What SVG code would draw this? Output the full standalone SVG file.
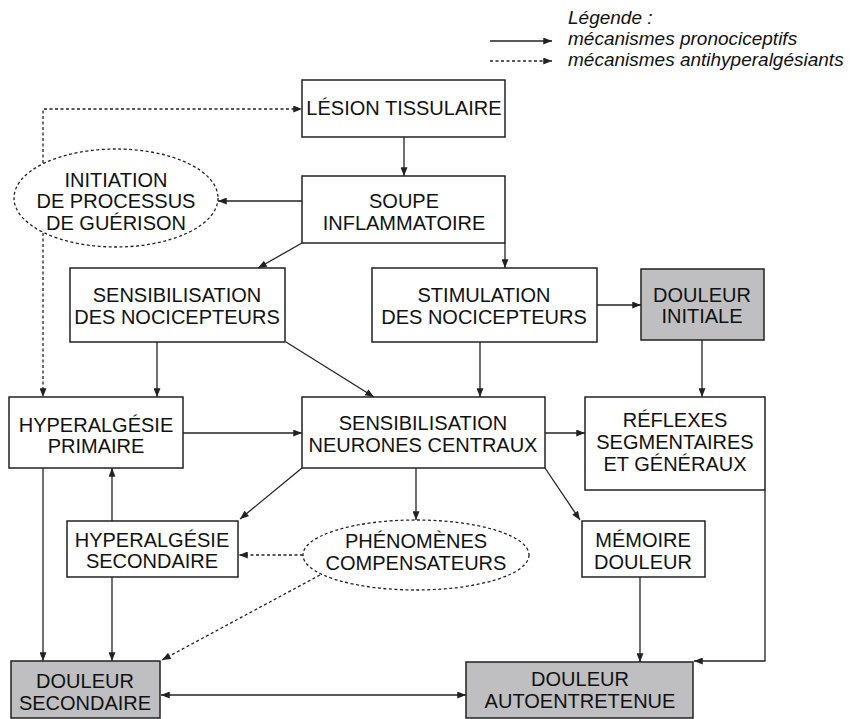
<svg xmlns="http://www.w3.org/2000/svg" width="859" height="719" viewBox="0 0 859 719">
  <defs>
    <marker id="arr" viewBox="0 0 10 8" refX="10" refY="4" markerWidth="10" markerHeight="7" markerUnits="userSpaceOnUse" orient="auto">
      <path d="M0,0 L10,4 L0,8 Z" fill="#222"/>
    </marker>
    <marker id="arrStart" viewBox="0 0 10 8" refX="0" refY="4" markerWidth="10" markerHeight="7" markerUnits="userSpaceOnUse" orient="auto">
      <path d="M10,0 L0,4 L10,8 Z" fill="#222"/>
    </marker>
  </defs>
  <style>
    .box { fill: #fff; stroke: #222; stroke-width: 1.5; }
    .grey { fill: #bfbfc1; stroke: #222; stroke-width: 1.5; }
    .oval { fill: #fff; stroke: #222; stroke-width: 1.3; stroke-dasharray: 3 2.5; }
    .lbl { font-family: "Liberation Sans", Arial, sans-serif; font-size: 20px; fill: #111; text-anchor: middle; }
    .leg { font-family: "Liberation Sans", Arial, sans-serif; font-size: 19px; font-style: italic; fill: #111; }
    .solid { fill: none; stroke: #222; stroke-width: 1.3; marker-end: url(#arr); }
    .dot { fill: none; stroke: #222; stroke-width: 1.3; stroke-dasharray: 3 2.5; marker-end: url(#arr); }
  </style>
  <rect width="859" height="719" fill="#fff"/>

  <!-- legend -->
  <g id="legend">
    <text class="leg" x="568" y="24">Légende :</text>
    <text class="leg" x="568" y="45">mécanismes pronociceptifs</text>
    <text class="leg" x="568" y="66">mécanismes antihyperalgésiants</text>
    <line class="solid" x1="490" y1="41" x2="552" y2="41"/>
    <line class="dot" x1="490" y1="61" x2="552" y2="61"/>
  </g>

  <!-- connectors -->
  <g id="connectors">
    <path class="dot" d="M43,163 V109 H302"/>
    <path class="dot" d="M43,233 V397"/>
    <line class="solid" x1="404" y1="137" x2="404" y2="176"/>
    <line class="solid" x1="302" y1="201" x2="218" y2="201"/>
    <line class="solid" x1="302" y1="243" x2="258" y2="268"/>
    <line class="solid" x1="505" y1="243" x2="505" y2="268"/>
    <line class="solid" x1="597" y1="305" x2="641" y2="305"/>
    <line class="solid" x1="702" y1="340" x2="702" y2="397"/>
    <line class="solid" x1="157" y1="342" x2="157" y2="397"/>
    <line class="solid" x1="286" y1="342" x2="374" y2="397"/>
    <line class="solid" x1="480" y1="342" x2="480" y2="397"/>
    <line class="solid" x1="183" y1="433" x2="302" y2="433"/>
    <line class="solid" x1="545" y1="433" x2="585" y2="433"/>
    <line class="solid" x1="302" y1="468" x2="240" y2="519"/>
    <line class="solid" x1="416" y1="468" x2="416" y2="520"/>
    <line class="solid" x1="545" y1="468" x2="580" y2="520"/>
    <line class="dot" x1="303" y1="555" x2="239" y2="555"/>
    <line class="solid" x1="112" y1="521" x2="112" y2="468"/>
    <line class="solid" x1="43" y1="468" x2="43" y2="661"/>
    <line class="solid" x1="112" y1="577" x2="112" y2="661"/>
    <line class="dot" x1="320" y1="575" x2="162" y2="660"/>
    <line class="solid" x1="640" y1="577" x2="640" y2="662"/>
    <path class="solid" d="M765,490 V661 H694"/>
    <line class="solid" x1="161" y1="695" x2="466" y2="695" style="marker-start:url(#arrStart)"/>
  </g>

  <!-- nodes -->
  <g id="lesion">
    <rect class="box" x="302" y="80" width="203" height="57"/>
    <text class="lbl" x="404" y="115">LÉSION TISSULAIRE</text>
  </g>
  <g id="soupe">
    <rect class="box" x="302" y="176" width="203" height="67"/>
    <text class="lbl" x="404" y="208">SOUPE</text>
    <text class="lbl" x="404" y="230">INFLAMMATOIRE</text>
  </g>
  <g id="initiation">
    <ellipse class="oval" cx="116" cy="198" rx="102" ry="49"/>
    <text class="lbl" x="116" y="187">INITIATION</text>
    <text class="lbl" x="116" y="208">DE PROCESSUS</text>
    <text class="lbl" x="116" y="230">DE GUÉRISON</text>
  </g>
  <g id="sens-nocicepteurs">
    <rect class="box" x="70" y="268" width="215" height="74"/>
    <text class="lbl" x="177" y="302">SENSIBILISATION</text>
    <text class="lbl" x="177" y="324">DES NOCICEPTEURS</text>
  </g>
  <g id="stim-nocicepteurs">
    <rect class="box" x="372" y="268" width="225" height="74"/>
    <text class="lbl" x="484" y="302">STIMULATION</text>
    <text class="lbl" x="484" y="324">DES NOCICEPTEURS</text>
  </g>
  <g id="douleur-initiale">
    <rect class="grey" x="641" y="269" width="123" height="71"/>
    <text class="lbl" x="702" y="302">DOULEUR</text>
    <text class="lbl" x="702" y="323">INITIALE</text>
  </g>
  <g id="hyper-primaire">
    <rect class="box" x="9" y="397" width="174" height="71"/>
    <text class="lbl" x="96" y="432">HYPERALGÉSIE</text>
    <text class="lbl" x="96" y="453">PRIMAIRE</text>
  </g>
  <g id="sens-neurones">
    <rect class="box" x="302" y="397" width="243" height="71"/>
    <text class="lbl" x="423" y="430">SENSIBILISATION</text>
    <text class="lbl" x="423" y="452">NEURONES CENTRAUX</text>
  </g>
  <g id="reflexes">
    <rect class="box" x="585" y="397" width="180" height="93"/>
    <text class="lbl" x="675" y="427">RÉFLEXES</text>
    <text class="lbl" x="675" y="449">SEGMENTAIRES</text>
    <text class="lbl" x="675" y="471">ET GÉNÉRAUX</text>
  </g>
  <g id="hyper-secondaire">
    <rect class="box" x="67" y="521" width="171" height="56"/>
    <text class="lbl" x="152" y="547">HYPERALGÉSIE</text>
    <text class="lbl" x="152" y="568">SECONDAIRE</text>
  </g>
  <g id="phenomenes">
    <ellipse class="oval" cx="416" cy="555" rx="113" ry="35"/>
    <text class="lbl" x="416" y="548">PHÉNOMÈNES</text>
    <text class="lbl" x="416" y="570">COMPENSATEURS</text>
  </g>
  <g id="memoire">
    <rect class="box" x="582" y="521" width="123" height="56"/>
    <text class="lbl" x="643" y="547">MÉMOIRE</text>
    <text class="lbl" x="643" y="569">DOULEUR</text>
  </g>
  <g id="douleur-secondaire">
    <rect class="grey" x="11" y="661" width="149" height="57"/>
    <text class="lbl" x="85" y="688">DOULEUR</text>
    <text class="lbl" x="85" y="710">SECONDAIRE</text>
  </g>
  <g id="douleur-autoentretenue">
    <rect class="grey" x="466" y="662" width="227" height="56"/>
    <text class="lbl" x="580" y="686">DOULEUR</text>
    <text class="lbl" x="580" y="708">AUTOENTRETENUE</text>
  </g>
</svg>
